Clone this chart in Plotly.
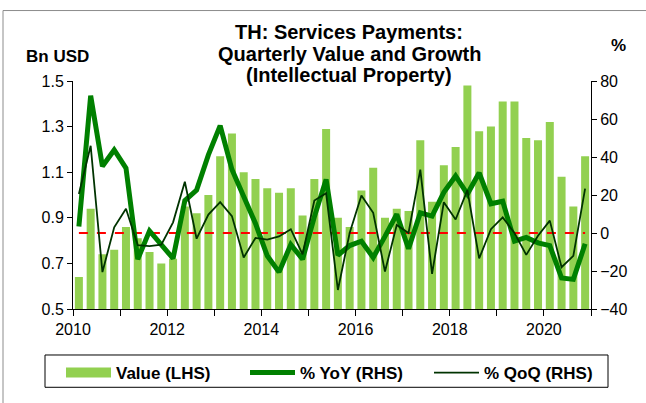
import plotly.graph_objects as go

# ---- data ----
years = [2010, 2011, 2012, 2013, 2014, 2015, 2016, 2017, 2018, 2019, 2020]
quarters = [1, 2, 3, 4]

value_bn_usd = [0.64, 0.94, 0.74, 0.76, 0.86, 0.81, 0.75, 0.70,
                0.72, 0.95, 0.92, 1.00, 1.17, 1.27, 1.10, 1.07,
                1.03, 1.01, 1.03, 0.91, 1.07, 1.29, 0.90, 0.86,
                1.02, 1.12, 0.90, 0.94, 0.93, 1.24, 0.97, 1.13,
                1.21, 1.48, 1.28, 1.30, 1.41, 1.41, 1.25, 1.24,
                1.32, 1.08, 0.95, 1.17]

yoy_pct = [3.4, 72.3, 35.1, 43.7, 34.2, -13.8, 1.1, -6.1,
           -13.4, 17.1, 22.6, 41.1, 56.5, 33.4, 19.0, 5.0,
           -12.0, -20.6, -6.1, -13.8, 8.5, 28.2, -11.7, -6.6,
           -4.3, -12.9, -1.8, 9.9, -8.3, 10.6, 8.9, 21.4,
           30.0, 20.5, 31.7, 15.4, 16.7, -4.3, -2.3, -5.2,
           -6.6, -23.7, -24.4, -5.7]

qoq_pct = [20.5, 45.9, -20.6, 3.0, 12.8, -6.4, -6.9, -6.1,
           5.6, 27.0, -3.0, 9.7, 16.2, 8.9, -12.9, -2.6,
           -3.5, -1.8, 2.0, -11.2, 17.1, 20.9, -30.0, 0.0,
           19.7, 10.6, -20.3, 4.2, 0.0, 33.4, -21.5, 16.2,
           7.1, 22.6, -13.4, 2.0, 8.2, 0.0, -11.5, -1.4,
           6.5, -18.0, -12.0, 23.4]

tick_years = [2010, 2011, 2012, 2013, 2014, 2015, 2016, 2017, 2018, 2019, 2020, 2021]
tick_labels = ["2010", "", "2012", "", "2014", "", "2016", "", "2018", "", "2020", ""]

# quarter position on a continuous year axis (centre of each quarter)
x = [y + (q - 0.5) / 4 for y in years for q in quarters]

FONT = "Liberation Sans, Arial, sans-serif"
BAR_C = "#92D050"
YOY_C = "#008000"
QOQ_C = "#003300"

# plot area in screen pixels: x 73..591, y 81..314
def px(sx):
    return (sx - 73) / 518

def py(sy):
    return (314 - sy) / 233

fig = go.Figure()

fig.add_trace(go.Bar(x=x, y=value_bn_usd, marker_color=BAR_C, marker_line_width=0,
                     name="Value (LHS)", showlegend=False, yaxis="y"))
# legend swatch for the bars (wide rectangle like the reference)
fig.add_trace(go.Scatter(x=[None], y=[None], mode="lines", name="Value (LHS)",
                         line=dict(color=BAR_C, width=10), yaxis="y"))
fig.add_trace(go.Scatter(x=[x[0], x[-1]], y=[0, 0], mode="lines", showlegend=False,
                         line=dict(color="#FF0000", width=2, dash="dash"), yaxis="y2",
                         hoverinfo="skip"))
fig.add_trace(go.Scatter(x=x, y=yoy_pct, mode="lines", name="% YoY (RHS)",
                         line=dict(color=YOY_C, width=5), yaxis="y2"))
fig.add_trace(go.Scatter(x=x, y=qoq_pct, mode="lines", name="% QoQ (RHS)",
                         line=dict(color=QOQ_C, width=1.8), yaxis="y2"))

axis_font = dict(family=FONT, size=16, color="black")

fig.update_layout(
    width=646, height=403,
    margin=dict(l=73, r=55, t=81, b=89),
    paper_bgcolor="white", plot_bgcolor="white",
    font=dict(family=FONT, color="black"),
    bargap=0.32,
    showlegend=True,
    xaxis=dict(range=[2010, 2021], tickmode="array", tickvals=tick_years,
               ticktext=tick_labels, ticks="outside", ticklen=6, tickcolor="black",
               showline=True, linecolor="black", linewidth=1, showgrid=False,
               zeroline=False, tickfont=axis_font),
    yaxis=dict(range=[0.5, 1.5], dtick=0.2, tick0=0.5, tickformat=".1f",
               ticks="outside", ticklen=5, tickcolor="black", showline=True,
               linecolor="black", linewidth=1, showgrid=False, zeroline=False,
               tickfont=axis_font),
    yaxis2=dict(range=[-40, 80], dtick=20, tick0=-40, overlaying="y", side="right",
                ticks="outside", ticklen=5, tickcolor="black", showline=True,
                linecolor="black", linewidth=1, showgrid=False, zeroline=False,
                tickfont=axis_font),
    legend=dict(orientation="h", x=px(61), xanchor="left",
                y=py(361), yanchor="top",
                borderwidth=0, bgcolor="rgba(0,0,0,0)",
                font=dict(family=FONT, size=17, color="black", weight="bold"),
                entrywidth=124, entrywidthmode="pixels", itemwidth=45,
                traceorder="normal"),
)

title_lines = ["TH: Services Payments:", "Quarterly Value and Growth", "(Intellectual Property)"]
title_y = [31, 53, 75]
for t, ty in zip(title_lines, title_y):
    fig.add_annotation(text=f"<b>{t}</b>", xref="paper", yref="paper",
                       x=px(349), y=py(ty), showarrow=False,
                       xanchor="center", yanchor="middle",
                       font=dict(family=FONT, size=20, color="black"))

fig.add_annotation(text="<b>Bn USD</b>", xref="paper", yref="paper",
                   x=px(57), y=py(56), showarrow=False,
                   xanchor="center", yanchor="middle",
                   font=dict(family=FONT, size=17, color="black"))
fig.add_annotation(text="<b>%</b>", xref="paper", yref="paper",
                   x=px(618), y=py(45), showarrow=False,
                   xanchor="center", yanchor="middle",
                   font=dict(family=FONT, size=17, color="black"))

# legend frame (black)
fig.add_shape(type="rect", xref="paper", yref="paper",
              x0=px(45), x1=px(608), y0=py(394), y1=py(361),
              line=dict(color="black", width=1), fillcolor="white", layer="below")

# outer chart frame (grey)
fig.add_shape(type="rect", xref="paper", yref="paper",
              x0=px(3), x1=px(670), y0=py(430), y1=py(9),
              line=dict(color="#8c8c8c", width=1), fillcolor="rgba(0,0,0,0)", layer="below")

fig.write_html("out.html",
               config={"displayModeBar": False},
               post_script="document.body.style.margin='0';document.body.style.overflow='hidden';")
